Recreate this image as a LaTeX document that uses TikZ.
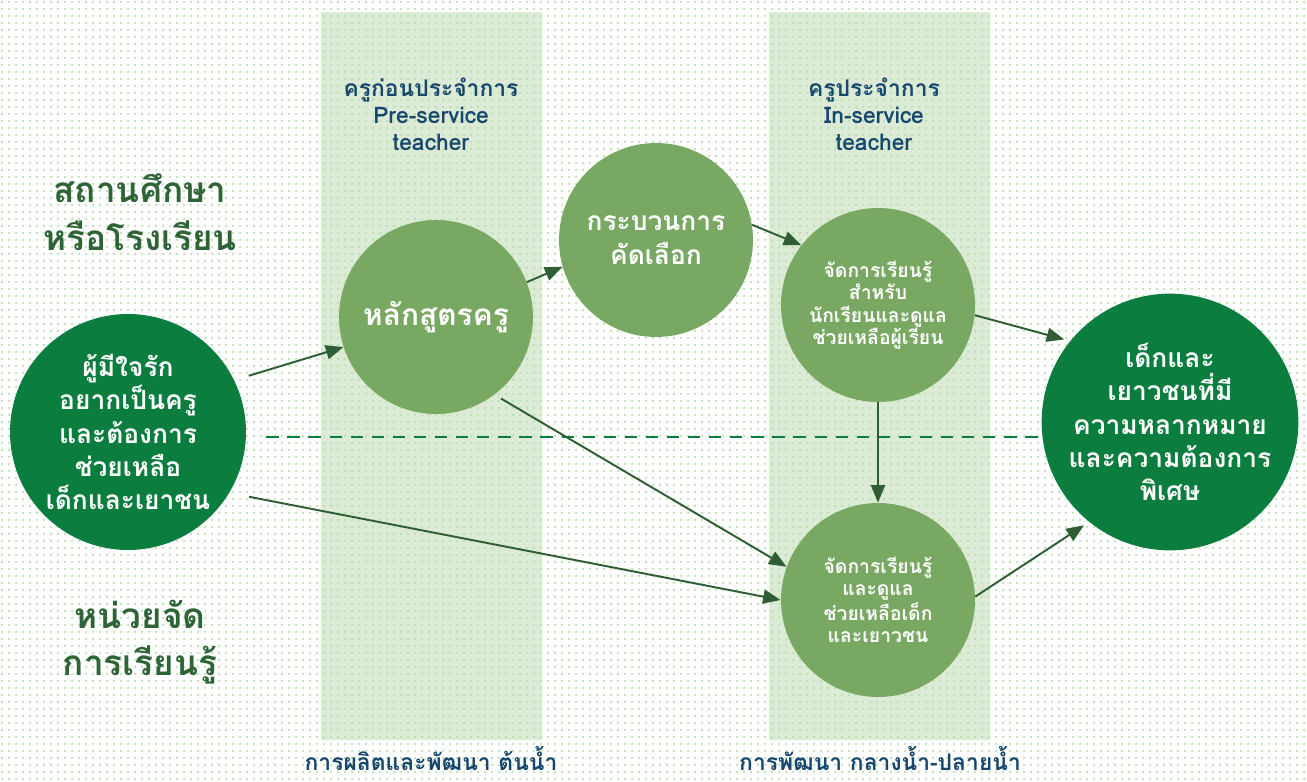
\documentclass[tikz,border=0pt]{standalone}
\usepackage{fontspec}
\setmainfont{Loma}[Script=Thai]
\usetikzlibrary{arrows.meta, patterns}
\definecolor{darkGreen}{HTML}{0B7D3E}
\definecolor{softGreen}{HTML}{78A862}
\definecolor{bandGreen}{HTML}{DCEBD5}
\definecolor{dotGreen}{HTML}{B5DEAA}
\definecolor{arrowGreen}{HTML}{2F5E35}
\definecolor{titleGreen}{HTML}{2E6436}
\definecolor{navyBlue}{HTML}{17476E}

\pgfdeclarepatternformonly{softdots}{\pgfpointorigin}{\pgfpoint{4pt}{4pt}}{\pgfpoint{4pt}{4pt}}{%
  \pgfpathcircle{\pgfpoint{2pt}{2pt}}{0.8pt}\pgfusepath{fill}}

\begin{document}
\begin{tikzpicture}[x=0.02cm, y=-0.02cm,
    bubble/.style={circle, fill=softGreen, text=white, align=center, inner sep=0pt,
      minimum size=3.88cm, font=\bfseries\fontsize{15}{19}\selectfont},
    bigbubble/.style={bubble, fill=darkGreen, minimum size=4.78cm},
    flow/.style={-{Triangle[length=10pt, width=8pt]}, arrowGreen, line width=1.1pt},
    dashline/.style={darkGreen, line width=1.1pt, dash pattern=on 7pt off 5pt},
    sidetitle/.style={text=titleGreen, align=center, font=\bfseries\fontsize{20}{27}\selectfont},
    bandtitle/.style={text=navyBlue, align=center, font=\bfseries\fontsize{13}{15.3}\selectfont}]

    % background
    \useasboundingbox (0,0) rectangle (1307,781);
    \fill[white] (0,0) rectangle (1307,781);
    \fill[bandGreen] (321,12) rectangle (542,740);
    \fill[bandGreen] (769,12) rectangle (990,740);
    \fill[pattern=softdots, pattern color=dotGreen] (0,0) rectangle (1307,781);

    % side titles
    \node[sidetitle] (school) at (140,212) {สถานศึกษา\\หรือโรงเรียน};
    \node[sidetitle] (unit) at (140,642) {หน่วยจัด\\การเรียนรู้};

    % band titles
    \node[bandtitle] (pre) at (431,114) {ครูก่อนประจำการ\\Pre-service\\teacher};
    \node[bandtitle] (inservice) at (874,114) {ครูประจำการ\\In-service\\teacher};
    \node[bandtitle] (upstream) at (431,758) {การผลิตและพัฒนา ต้นน้ำ};
    \node[bandtitle] (downstream) at (880,758) {การพัฒนา กลางน้ำ-ปลายน้ำ};

    % circles
    \node[bigbubble, minimum size=4.72cm] (seeker) at (128,432)
      {ผู้มีใจรัก\\อยากเป็นครู\\และต้องการ\\ช่วยเหลือ\\เด็กและเยาชน};
    \node[bubble, font=\bfseries\fontsize{17}{21}\selectfont] (course) at (436,317) {หลักสูตรครู};
    \node[bubble] (select) at (656,240) {กระบวนการ\\คัดเลือก};
    \node[bubble, font=\bfseries\fontsize{11}{12.8}\selectfont] (teachA) at (878,305)
      {จัดการเรียนรู้\\สำหรับ\\นักเรียนและดูแล\\ช่วยเหลือผู้เรียน};
    \node[bubble, font=\bfseries\fontsize{11}{12.8}\selectfont] (teachB) at (878,600)
      {จัดการเรียนรู้\\และดูแล\\ช่วยเหลือเด็ก\\และเยาวชน};
    \node[bigbubble, minimum size=4.92cm] (youth) at (1170,422)
      {เด็กและ\\เยาวชนที่มี\\ความหลากหมาย\\และความต้องการ\\พิเศษ};

    % dashed divider
    \coordinate (divide) at (0,437);
    \draw[dashline, shorten <=0.4cm] (seeker.east |- divide) -- (youth.west |- divide);

    % arrows
    \draw[flow, shorten <=0.3cm] (seeker.26) -- (course.198);
    \draw[flow] (course.21) -- (select.196);
    \draw[flow] (select.9) -- (teachA.142);
    \draw[flow, shorten >=0.12cm] (teachA.-6) -- (youth.141);
    \draw[flow] (teachA.south) -- (teachB.north);
    \draw[flow, shorten <=0.15cm] (course.-53) -- (teachB.160);
    \draw[flow, shorten <=0.4cm] (seeker.-31) -- (teachB.180);
    \draw[flow, shorten >=0.12cm] (teachB.2) -- (youth.231);
\end{tikzpicture}
\end{document}
